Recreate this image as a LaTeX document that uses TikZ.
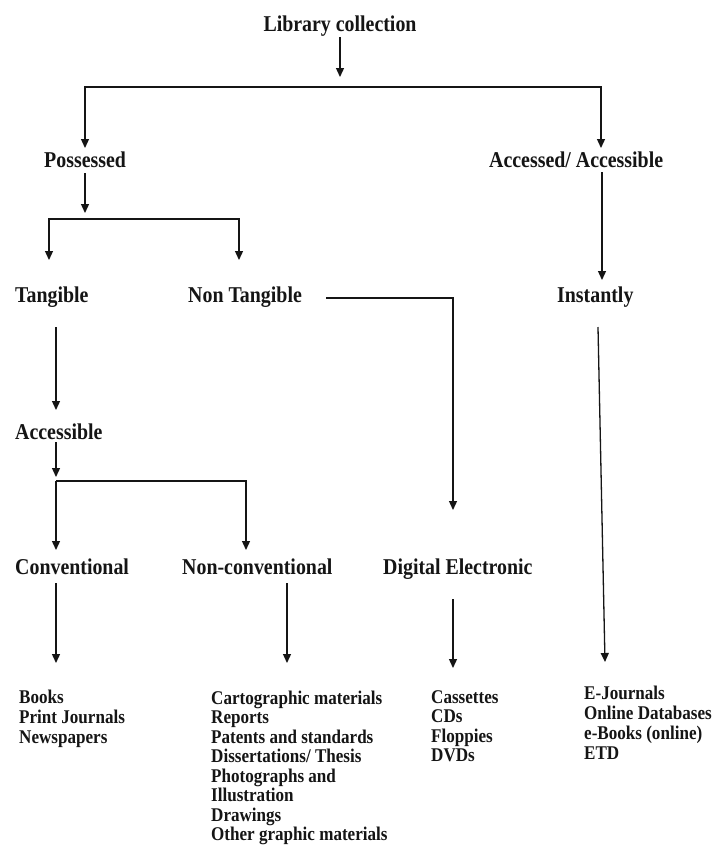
\documentclass[tikz,border=0pt]{standalone}
\usepackage{fontspec}
\setmainfont{Liberation Serif}[FakeStretch=0.88]
\usetikzlibrary{arrows.meta}
\definecolor{ink}{HTML}{151515}
\begin{document}
\begin{tikzpicture}[x=1pt,y=-1pt,
  head/.style={font=\fontsize{22.6}{24}\selectfont\bfseries, text=ink, inner sep=0pt, anchor=base west},
  lst/.style={font=\fontsize{19.4}{20}\selectfont\bfseries, text=ink, inner sep=0pt, anchor=base west},
  link/.style={draw=ink, line width=1.3pt},
  tip/.tip={Triangle[width=8pt,length=9pt]},
  arr/.style={link, -tip},
  dblarr/.style={link, tip-tip}]
\useasboundingbox[fill=white] (0,0) rectangle (714,847);

% headings
\node[head, anchor=base] (lib) at (340,31) {Library collection};
\node[head] (pos)   at (44,167)  {Possessed};
\node[head] (acc)   at (489,167) {Accessed/ Accessible};
\node[head] (tan)   at (15,302)  {Tangible};
\node[head] (ntan)  at (188,302) {Non Tangible};
\node[head] (inst)  at (557,302) {Instantly};
\node[head] (acb)   at (15,439)  {Accessible};
\node[head] (conv)  at (15,574)  {Conventional};
\node[head] (nconv) at (182,574) {Non-conventional};
\node[head] (dig)   at (383,574) {Digital Electronic};

% lists
\node[lst] (lconv) at (19,703) {\begin{tabular}[t]{@{}l@{}}Books\\Print Journals\\Newspapers\end{tabular}};
\node[lst, font=\fontsize{19.4}{19.5}\selectfont\bfseries] (lnconv) at (211,704) {\begin{tabular}[t]{@{}l@{}}Cartographic materials\\Reports\\Patents and standards\\Dissertations/ Thesis\\Photographs and\\Illustration\\Drawings\\Other graphic materials\end{tabular}};
\node[lst, font=\fontsize{19.4}{19.5}\selectfont\bfseries] (ldig) at (431,703) {\begin{tabular}[t]{@{}l@{}}Cassettes\\CDs\\Floppies\\DVDs\end{tabular}};
\node[lst] (linst) at (584,699) {\begin{tabular}[t]{@{}l@{}}E-Journals\\Online Databases\\e-Books (online)\\ETD\end{tabular}};

% connector points
\coordinate (libS)  at (340,37);
\coordinate (libT)  at (340,77);
\coordinate (b1L)   at (85,87);
\coordinate (b1R)   at (601,87);
\coordinate (posN)  at (85,148);
\coordinate (accN)  at (601,148);
\coordinate (posS)  at (85,173);
\coordinate (posT)  at (85,213);
\coordinate (b2L)   at (49,219);
\coordinate (b2R)   at (239,219);
\coordinate (tanN)  at (49,260);
\coordinate (ntanN) at (239,260);
\coordinate (accS)  at (602,172);
\coordinate (instN) at (602,280);
\coordinate (ntanE) at (326,298);
\coordinate (ntanC) at (453,298);
\coordinate (digN)  at (453,510);
\coordinate (tanS)  at (56,327);
\coordinate (acbN)  at (56,410);
\coordinate (acbS)  at (56,442);
\coordinate (acbT)  at (56,477);
\coordinate (b3L)   at (56,481);
\coordinate (b3R)   at (246,481);
\coordinate (convN) at (56,550);
\coordinate (nconvN) at (246,550);
\coordinate (instS) at (598,327);
\coordinate (linstN) at (605,662);
\coordinate (convS) at (56,583);
\coordinate (lconvN) at (56,663);
\coordinate (nconvS) at (287,583);
\coordinate (lnconvN) at (287,663);
\coordinate (digS)  at (453,599);
\coordinate (ldigN) at (453,668);

% connectors
\draw[arr] (libS) -- (libT);
\draw[dblarr] (posN) -- (b1L) -- (b1R) -- (accN);
\draw[arr] (posS) -- (posT);
\draw[dblarr] (tanN) -- (b2L) -- (b2R) -- (ntanN);
\draw[arr] (accS) -- (instN);
\draw[arr] (ntanE) -- (ntanC) -- (digN);
\draw[arr] (tanS) -- (acbN);
\draw[arr] (acbS) -- (acbT);
\draw[arr] (b3L) -- (convN);
\draw[arr] (b3L) -- (b3R) -- (nconvN);
\draw[arr] (instS) -- (linstN);
\draw[arr] (convS) -- (lconvN);
\draw[arr] (nconvS) -- (lnconvN);
\draw[arr] (digS) -- (ldigN);
\end{tikzpicture}
\end{document}
